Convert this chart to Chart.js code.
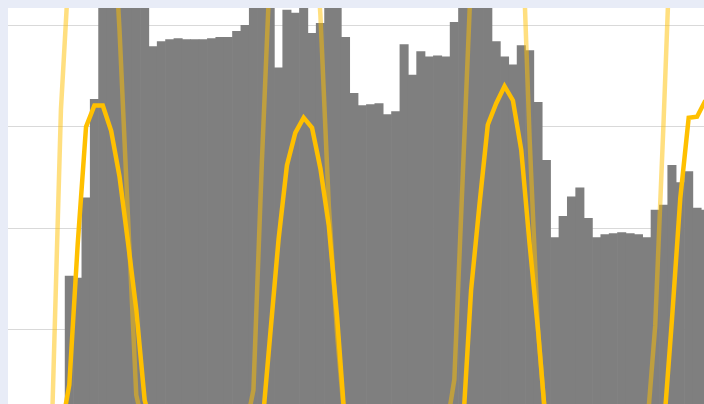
<!DOCTYPE html>
<html>
<head>
<meta charset="utf-8">
<script src="https://cdn.jsdelivr.net/npm/chart.js@4/dist/chart.umd.min.js"></script>
<style>
  html, body { margin: 0; padding: 0; background: #e8ecf7; overflow: hidden; }
  #c { display: block; }
</style>
</head>
<body>
<canvas id="c" width="704" height="404"></canvas>
<script>
// Hour index (categories) for all series
const hours = [];
for (let h = -8; h <= 76; h++) hours.push(h);

// Hourly load (grey bars), h = -8 .. 76
const load = [
  null, null, null, null, null, null, null, null,
  153, 151, 230, 327, 445, 460, 455, 450, 440, 430,
  379, 384, 386, 387, 386, 386, 386, 387, 388, 388,
  394, 400, 425, 440, 430, 358, 415, 412, 425, 392,
  402, 430, 425, 388, 333, 321, 322, 323, 312, 315,
  381, 351, 374, 369, 370, 369, 403, 430, 445, 440,
  425, 384, 369, 361, 380, 375, 324, 267, 191, 212,
  231, 240, 210, 191, 194, 195, 196, 195, 194, 191,
  218, 223, 262, 245, 256, 220, 218
];

// Solar output (solid gold line), h = -8 .. 76
const solar = [
  0, 0, 0, 0, 0, 0, 0, 0,
  46, 184, 300, 321, 321, 296, 251, 187, 120, 31,
  0, 0, 0, 0, 0, 0, 0, 0, 0, 0, 0, 0, 0, 0,
  95, 189, 262, 294, 309, 299, 259, 203, 112,
  0, 0, 0, 0, 0, 0, 0, 0, 0, 0, 0, 0, 0, 0, 0,
  139, 223, 302, 323, 340, 326, 277, 184, 100,
  0, 0, 0, 0, 0, 0, 0, 0, 0, 0, 0, 0, 0, 0, 0,
  110, 230, 309, 310, 326
];

// Second series (light translucent gold line), h = -8 .. 76
const potential = [
  0, 0, 0, 0, 0, 0, 27, 317,
  463, 600, 680, 700, 660, 545, 395, 213, 36,
  0, 0, 0, 0, 0, 0, 0, 0, 0, 0, 0, 0, 0,
  41, 264, 461, 620, 690, 710, 680, 540, 410, 223, 95,
  0, 0, 0, 0, 0, 0, 0, 0, 0, 0, 0, 0, 0,
  51, 250, 449, 610, 690, 720, 700, 640, 520, 287, 100,
  0, 0, 0, 0, 0, 0, 0, 0, 0, 0, 0, 0, 0,
  104, 305, 523, 630, 700, 720, 720
];

// Gridline values on the value axis
const yTicks = [100, 200, 300, 400];

const plotBg = {
  id: 'plotBg',
  beforeDraw(chart) {
    const { ctx, chartArea: a } = chart;
    ctx.save();
    ctx.fillStyle = '#ffffff';
    ctx.fillRect(a.left, a.top, a.right - a.left, a.bottom - a.top);
    ctx.restore();
  }
};

new Chart(document.getElementById('c'), {
  type: 'bar',
  data: {
    labels: hours,
    datasets: [
      {
        type: 'line',
        data: solar,
        borderColor: '#FFC000',
        borderWidth: 4.5,
        pointRadius: 0,
        tension: 0,
        clip: 0,
        order: 0
      },
      {
        type: 'line',
        data: potential,
        borderColor: 'rgba(255,192,0,0.5)',
        borderWidth: 4.5,
        pointRadius: 0,
        tension: 0,
        clip: 0,
        order: 1
      },
      {
        type: 'bar',
        data: load,
        backgroundColor: '#7f7f7f',
        borderWidth: 0,
        barPercentage: 1,
        categoryPercentage: 1,
        clip: 0,
        order: 2
      }
    ]
  },
  options: {
    responsive: false,
    animation: false,
    devicePixelRatio: 1,
    layout: { padding: { left: 8, top: 8, right: 0, bottom: 0 } },
    plugins: { legend: { display: false }, tooltip: { enabled: false } },
    scales: {
      x: {
        type: 'linear',
        min: -7.324,
        max: 75.83,
        offset: false,
        display: false,
        grid: { display: false, offset: false }
      },
      y: {
        min: 27.1,
        max: 417.0,
        display: true,
        afterBuildTicks: (scale) => { scale.ticks = yTicks.map(v => ({ value: v })); },
        ticks: { display: false },
        border: { display: false },
        grid: { color: '#d9d9d9', lineWidth: 1, drawTicks: false }
      }
    }
  },
  plugins: [plotBg]
});
</script>
</body>
</html>
